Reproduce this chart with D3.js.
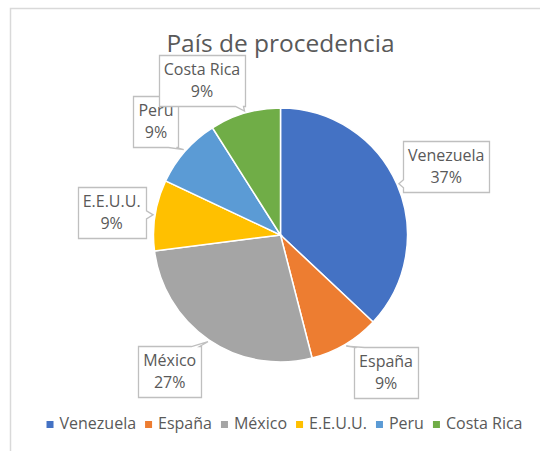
<!DOCTYPE html>
<html>
<head>
<meta charset="utf-8">
<script src="https://cdn.jsdelivr.net/npm/d3@7"></script>
<style>
  body { margin: 0; background: #fff; }
  svg text { font-family: "Open Sans", sans-serif; fill: #595959; }
</style>
</head>
<body>
<div id="chart"></div>
<script>
// data
var categories = ["Venezuela", "España", "México", "E.E.U.U.", "Peru", "Costa Rica"];
var shares = [37, 9, 27, 9, 9, 9];
var colors = ["#4472C4", "#ED7D31", "#A5A5A5", "#FFC000", "#5B9BD5", "#70AD47"];
var title = "País de procedencia";

var width = 540, height = 451;
var cx = 280.5, cy = 235, radius = 127;

var svg = d3.select("#chart").append("svg")
    .attr("width", width)
    .attr("height", height);

// chart area border (only top & left visible in crop)
svg.append("path")
    .attr("d", "M10.5," + height + "V8.5H" + width)
    .attr("fill", "none")
    .attr("stroke", "#d9d9d9")
    .attr("stroke-width", 1.5);

// title
svg.append("text")
    .attr("x", cx)
    .attr("y", 52)
    .attr("text-anchor", "middle")
    .style("font-size", "24.5px")
    .text(title);

var data = categories.map(function(c, i) {
    return { name: c, value: shares[i], color: colors[i] };
});

var pie = d3.pie()
    .sort(null)
    .value(function(d) { return d.value; });

var arcs = pie(data);

var arc = d3.arc().innerRadius(0).outerRadius(radius);
var labelArc = d3.arc().innerRadius(174).outerRadius(174);

var g = svg.append("g")
    .attr("transform", "translate(" + cx + "," + cy + ")");

g.selectAll("path.slice")
    .data(arcs)
    .enter()
    .append("path")
    .attr("class", "slice")
    .attr("d", arc)
    .attr("fill", function(d) { return d.data.color; })
    .attr("stroke", "#fff")
    .attr("stroke-width", 1.5);

// callout labels (best-fit style nudges)
var nudge = {
    "Venezuela": [6, 0],
    "España": [17, -13],
    "México": [-13, -8],
    "E.E.U.U.": [3, 4],
    "Peru": [6, 1],
    "Costa Rica": [-30, 12]
};

function calloutPath(x0, y0, x1, y1, tx, ty) {
    var w = 4, p;
    var clamp = function(v, a, b) { return Math.max(a, Math.min(b, v)); };
    if (ty < y0 || ty > y1) {
        var bx = clamp(tx, x0 + 6, x1 - 6);
        if (ty < y0) {
            p = "M" + x0 + "," + y0 + "H" + (bx - w) + "L" + tx + "," + ty + "L" + (bx + w) + "," + y0 +
                "H" + x1 + "V" + y1 + "H" + x0 + "Z";
        } else {
            p = "M" + x0 + "," + y0 + "H" + x1 + "V" + y1 + "H" + (bx + w) + "L" + tx + "," + ty +
                "L" + (bx - w) + "," + y1 + "H" + x0 + "Z";
        }
    } else {
        var by = clamp(ty, y0 + 6, y1 - 6);
        if (tx < x0) {
            p = "M" + x0 + "," + y0 + "H" + x1 + "V" + y1 + "H" + x0 + "V" + (by + w) + "L" + tx + "," + ty +
                "L" + x0 + "," + (by - w) + "Z";
        } else {
            p = "M" + x0 + "," + y0 + "H" + x1 + "V" + (by - w) + "L" + tx + "," + ty + "L" + x1 + "," + (by + w) +
                "V" + y1 + "H" + x0 + "Z";
        }
    }
    return p;
}

var labels = svg.append("g").attr("class", "labels");

arcs.forEach(function(d) {
    var c = labelArc.centroid(d);
    var n = nudge[d.data.name] || [0, 0];
    var lx = cx + c[0] + n[0], ly = cy + c[1] + n[1];

    var lg = labels.append("g");
    var box = lg.append("path");
    var t1 = lg.append("text")
        .attr("x", lx).attr("y", ly - 5)
        .attr("text-anchor", "middle")
        .style("font-size", "16px")
        .text(d.data.name);
    lg.append("text")
        .attr("x", lx).attr("y", ly + 17)
        .attr("text-anchor", "middle")
        .style("font-size", "16px")
        .text(d.data.value + "%");

    var tw = t1.node().getComputedTextLength();
    var x0 = Math.round(lx - tw / 2 - 5) + 0.5, x1 = Math.round(lx + tw / 2 + 5) + 0.5;
    var y0 = Math.round(ly - 25) + 0.5, y1 = Math.round(ly + 26) + 0.5;

    var mid = (d.startAngle + d.endAngle) / 2;
    var tx = cx + (radius + 2) * Math.sin(mid), ty = cy - (radius + 2) * Math.cos(mid);

    box.attr("d", calloutPath(x0, y0, x1, y1, tx, ty))
        .attr("fill", "#fff")
        .attr("stroke", "#bfbfbf")
        .attr("stroke-width", 1.3);
});

// legend
var legend = svg.append("g").attr("class", "legend");
var xpos = 0;
data.forEach(function(d) {
    var it = legend.append("g");
    it.append("rect")
        .attr("x", 0).attr("y", -8)
        .attr("width", 7).attr("height", 7)
        .attr("fill", d.color);
    var t = it.append("text")
        .attr("x", 13).attr("y", 0)
        .style("font-size", "16px")
        .text(d.name);
    var w = 13 + t.node().getComputedTextLength();
    it.attr("transform", "translate(" + xpos + ",0)");
    xpos += w + 9;
});
var totalW = xpos - 9;
legend.attr("transform", "translate(" + (284.5 - totalW / 2) + ",429)");
</script>
</body>
</html>
